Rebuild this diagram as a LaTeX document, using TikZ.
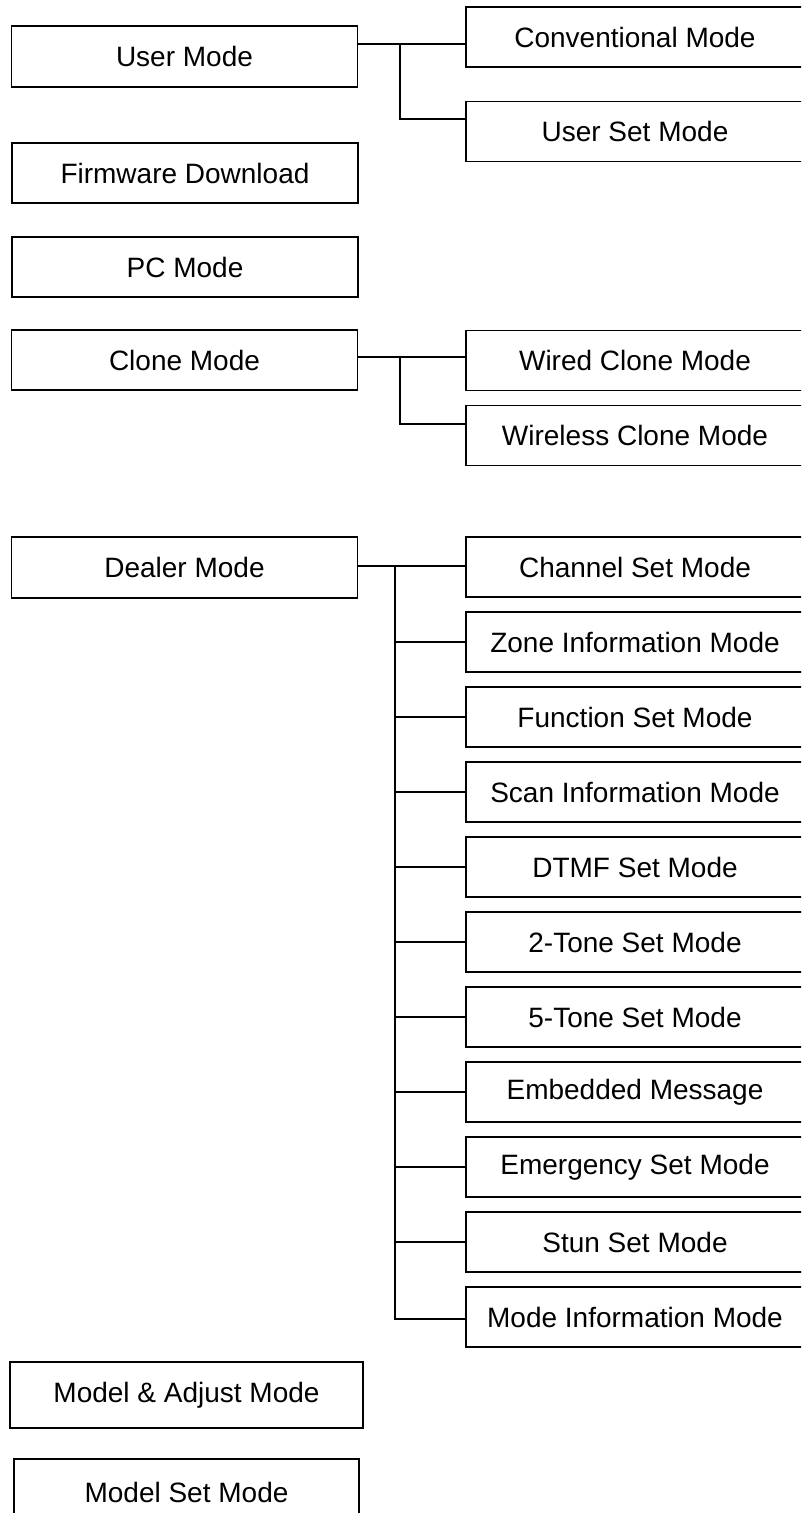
\documentclass[tikz,border=0pt]{standalone}
\usepackage{fontspec}
\setmainfont{Liberation Sans}
\usetikzlibrary{positioning}

\begin{document}
\begin{tikzpicture}[x=1pt,y=-1pt,on grid,node distance=75pt,line width=1.8pt,
		mode/.style={draw,rectangle,inner sep=0pt,minimum width=346pt,minimum height=61pt,font=\fontsize{28}{33}\selectfont},
		submode/.style={mode,minimum width=338pt,minimum height=60pt}]

		\useasboundingbox (0,0) rectangle (801,1513);
		\clip (0,0) rectangle (801,1513);

		% main modes
		\node (user) [mode] at (184.5,56.5) {User Mode};
		\node (firmware) [mode,minimum height=60pt] at (185,173) {Firmware Download};
		\node (pc) [mode,minimum height=60pt] at (185,267) {PC Mode};
		\node (clone) [mode,minimum height=60pt] at (184.5,360) {Clone Mode};
		\node (dealer) [mode] at (184.5,567.5) {Dealer Mode};
		\node (adjust) [mode,minimum width=353pt,minimum height=66pt] at (186.5,1395) {Model \& Adjust Mode};
		\node (modelset) [mode,minimum width=345pt,minimum height=66pt] at (186.5,1492) {Model Set Mode};

		% sub modes
		\node (conv) [submode] at (635,37) {Conventional Mode};
		\node (userset) [submode] at (635,131.5) {User Set Mode};
		\node (wired) [submode] at (635,360.5) {Wired Clone Mode};
		\node (wireless) [submode] at (635,435.5) {Wireless Clone Mode};

		\node (channel) [submode] at (635,567) {Channel Set Mode};
		\node (zone) [submode, below=of channel] {Zone Information Mode};
		\node (function) [submode, below=of zone] {Function Set Mode};
		\node (scan) [submode, below=of function] {Scan Information Mode};
		\node (dtmf) [submode, below=of scan] {DTMF Set Mode};
		\node (twotone) [submode, below=of dtmf] {2-Tone Set Mode};
		\node (fivetone) [submode, below=of twotone] {5-Tone Set Mode};
		\node (embedded) [submode, below=of fivetone] {Embedded Message};
		\node (emergency) [submode, below=of embedded] {Emergency Set Mode};
		\node (stun) [submode, below=of emergency] {Stun Set Mode};
		\node (info) [submode, below=of stun] {Mode Information Mode};

		% branch points
		\coordinate (ub) at (400,44);
		\coordinate (ue) at (400,119);
		\coordinate (cb) at (400,357);
		\coordinate (ce) at (400,424);
		\coordinate (db) at (395,566);

		\draw (user.east |- ub) -- (conv.west |- ub);
		\draw (ub) -- (ue) -- (userset.west |- ue);

		\draw (clone.east |- cb) -- (wired.west |- cb);
		\draw (cb) -- (ce) -- (wireless.west |- ce);

		\draw (dealer.east |- db) -- (channel.west |- db);
		\draw (db) |- (zone.west);
		\draw (db) |- (function.west);
		\draw (db) |- (scan.west);
		\draw (db) |- (dtmf.west);
		\draw (db) |- (twotone.west);
		\draw (db) |- (fivetone.west);
		\draw (db) |- (embedded.west);
		\draw (db) |- (emergency.west);
		\draw (db) |- (stun.west);
		\draw (db) |- ([yshift=-2pt]info.west);

	\end{tikzpicture}
\end{document}
